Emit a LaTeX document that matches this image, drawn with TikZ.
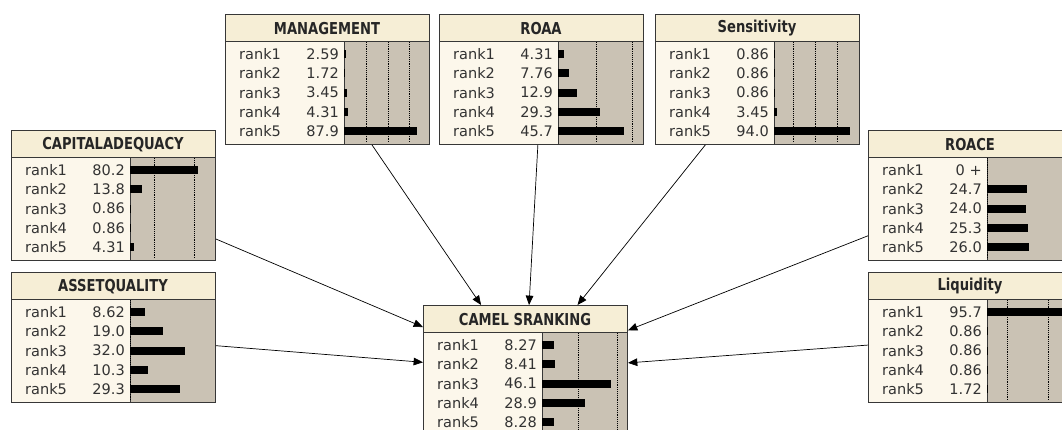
\documentclass[tikz,border=0pt]{standalone}
\usepackage{fontspec}
\setmainfont{DejaVu Sans}
\newfontfamily\headfont[FakeStretch=0.8]{DejaVu Sans}
\usetikzlibrary{arrows.meta}
\definecolor{TitleBeige}{RGB}{246,238,214}
\definecolor{BodyCream}{RGB}{252,247,235}
\definecolor{BarTan}{RGB}{202,194,180}
\definecolor{FrameGray}{RGB}{55,55,55}
\tikzset{
  netframe/.style={draw=FrameGray,fill=BodyCream,line width=0.8pt,anchor=north west,
    minimum width=6.12cm,minimum height=3.9cm,inner sep=0pt},
  titlebar/.style={draw=FrameGray,fill=TitleBeige,line width=0.8pt},
  bararea/.style={draw=FrameGray,fill=BarTan,line width=0.8pt},
  gridline/.style={densely dotted,black,line width=0.6pt},
  titletext/.style={font=\headfont\bfseries\fontsize{14}{14}\selectfont,text=black!85,
    inner sep=0pt},
  ranktext/.style={font=\fontsize{12.4}{14}\selectfont,text=black!80,anchor=west,inner sep=0pt},
  valtext/.style={font=\fontsize{12.4}{14}\selectfont,text=black!80,anchor=east,inner sep=0pt},
  probbar/.style={fill=black},
  link/.style={-{Triangle[length=8pt,width=6.5pt]},black,line width=0.6pt}
}
% #1 name, #2 left, #3 top, #4 title, #5 px per percent, #6 grid offsets, #7 value/percent
\newcommand{\probnode}[7]{%
  \node[netframe] (#1) at (#2,#3) {};
  \draw[titlebar] (#2,#3) rectangle ({#2+204},{#3+27});
  \draw[bararea] ({#2+119},{#3+27}) rectangle ({#2+204},{#3+130});
  \foreach \g in {#6}
    \draw[gridline] ({#2+119+\g},{#3+28}) -- ({#2+119+\g},{#3+129});
  \node[titletext] (#1-t) at ({#2+102},{#3+14.5}) {#4};
  \foreach \v/\p [count=\i] in {#7} {
    \node[ranktext] (#1-l\i) at ({#2+14},{#3+40+19.3*(\i-1)}) {rank\i};
    \node[valtext] (#1-v\i) at ({#2+114},{#3+40+19.3*(\i-1)}) {\v};
    \fill[probbar] ({#2+119},{#3+36+19.3*(\i-1)}) rectangle ({#2+119+\p*#5},{#3+44+19.3*(\i-1)});
  }%
}

\begin{document}
\begin{tikzpicture}[x=0.03cm,y=-0.03cm]
\useasboundingbox (0,0) rectangle (1062,430);
\clip (0,0) rectangle (1062,430);

% parent nodes
\probnode{mgmt}{225}{14}{MANAGEMENT}{0.83}{22,44,65}
  {2.59/2.59,1.72/1.72,3.45/3.45,4.31/4.31,87.9/87.9}
\probnode{roaa}{439}{14}{ROAA}{1.45}{38,74}
  {4.31/4.31,7.76/7.76,12.9/12.9,29.3/29.3,45.7/45.7}
\probnode{sens}{655}{14}{Sensitivity}{0.81}{19,41,63}
  {0.86/0.86,0.86/0.86,0.86/0.86,3.45/3.45,94.0/94.0}
\probnode{capital}{11}{130}{CAPITALADEQUACY}{0.85}{24,64}
  {80.2/80.2,13.8/13.8,0.86/0.86,0.86/0.86,4.31/4.31}
\probnode{asset}{11}{272}{ASSETQUALITY}{1.72}{0}
  {8.62/8.62,19.0/19.0,32.0/32.0,10.3/10.3,29.3/29.3}
\probnode{roace}{868}{130}{ROACE}{1.62}{0}
  {{0 +}/0,24.7/24.7,24.0/24.0,25.3/25.3,26.0/26.0}
\probnode{liquid}{868}{272}{Liquidity}{0.85}{20,61}
  {95.7/95.7,0.86/0.86,0.86/0.86,0.86/0.86,1.72/1.72}

% child node
\probnode{camels}{423}{305}{CAMEL SRANKING}{1.5}{36,75}
  {8.27/8.27,8.41/8.41,46.1/46.1,28.9/28.9,8.28/8.28}

% links
\draw[link] (mgmt) -- (camels);
\draw[link] (roaa) -- (camels);
\draw[link] (sens) -- (camels);
\draw[link] (capital) -- (camels);
\draw[link] (asset) -- (camels);
\draw[link] (roace) -- (camels);
\draw[link] (liquid) -- (camels);

\end{tikzpicture}
\end{document}
